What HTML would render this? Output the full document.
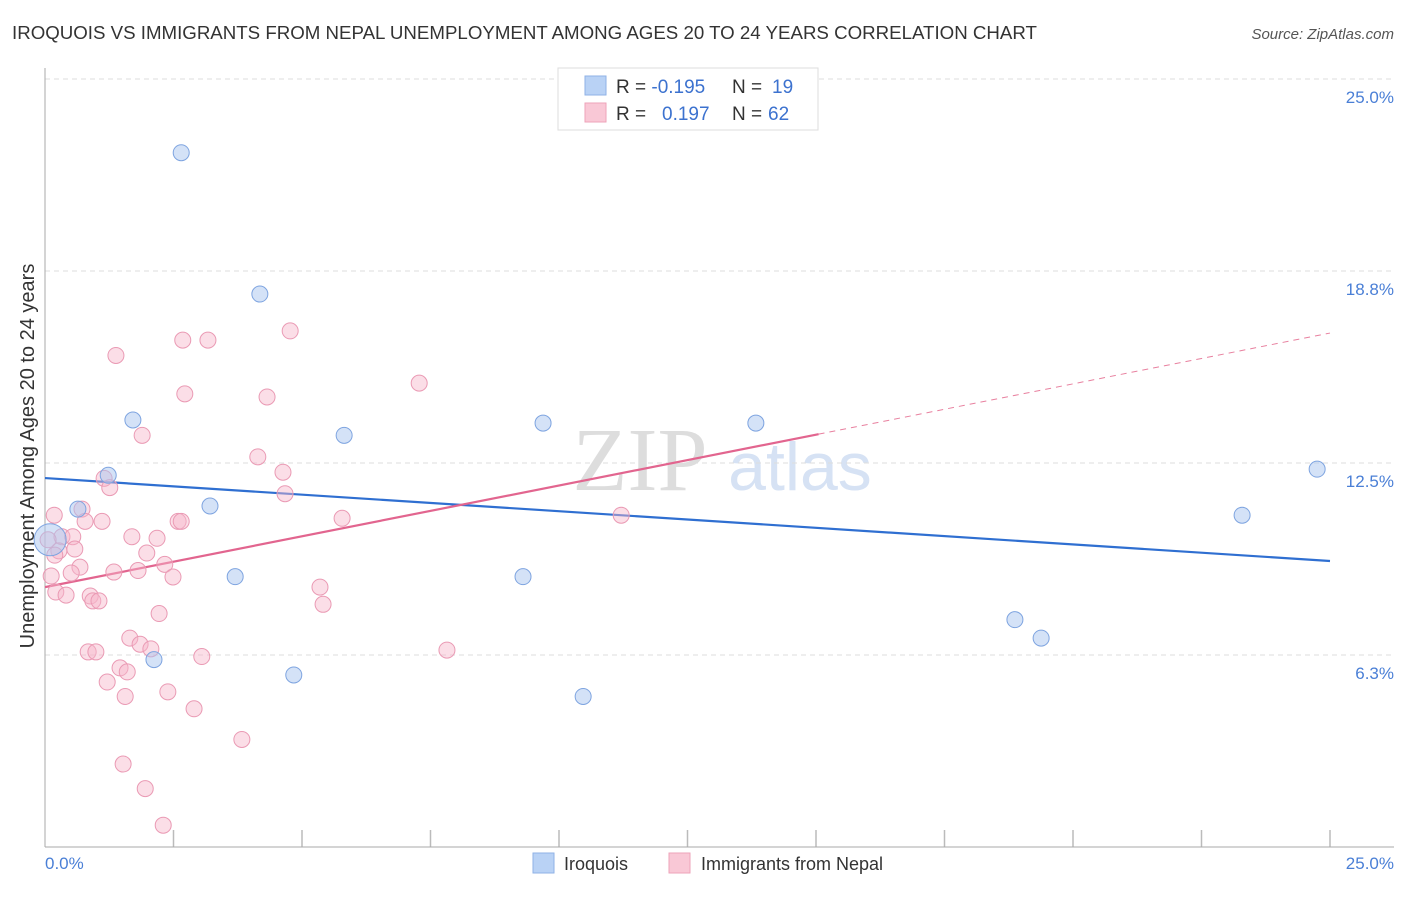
<!DOCTYPE html>
<html><head><meta charset="utf-8"><style>
body{margin:0;background:#fff;font-family:"Liberation Sans",sans-serif}
</style></head><body>
<svg width="1406" height="892" xmlns="http://www.w3.org/2000/svg">
<text x="12" y="39" font-size="18.7" fill="#333">IROQUOIS VS IMMIGRANTS FROM NEPAL UNEMPLOYMENT AMONG AGES 20 TO 24 YEARS CORRELATION CHART</text>
<text x="1394" y="39" font-size="15" fill="#555" font-style="italic" text-anchor="end">Source: ZipAtlas.com</text>
<text x="640" y="490" font-size="90" fill="#ddd" font-family="Liberation Serif" text-anchor="middle">ZIP</text>
<text x="800" y="490" font-size="68" fill="#d6e2f4" text-anchor="middle">atlas</text>
<g id="grid"></g>
<line x1="45" y1="68" x2="45" y2="847" stroke="#aaa"/>
<line x1="45" y1="847" x2="1394" y2="847" stroke="#aaa"/>
<text x="34" y="456" font-size="20" fill="#333" text-anchor="middle" transform="rotate(-90 34 456)">Unemployment Among Ages 20 to 24 years</text>
<text x="45" y="869" font-size="17" fill="#4a7fd6">0.0%</text>
<text x="1394" y="869" font-size="17" fill="#4a7fd6" text-anchor="end">25.0%</text>
<g id="lines"></g><g id="pts"></g>
<g>
<rect x="558" y="68" width="260" height="62" fill="#fff" stroke="#ddd"/>
<rect x="585" y="76" width="21" height="19" fill="#b9d2f5" stroke="#8fb2e6"/>
<rect x="585" y="103" width="21" height="19" fill="#f9c8d6" stroke="#eea3b9"/>
<text x="616" y="93" font-size="19" fill="#333">R = <tspan fill="#3c72cf">-0.195</tspan><tspan x="732">N = </tspan><tspan x="772" fill="#3c72cf">19</tspan></text>
<text x="616" y="120" font-size="19" fill="#333">R = <tspan x="662" fill="#3c72cf">0.197</tspan><tspan x="732">N = </tspan><tspan x="768" fill="#3c72cf">62</tspan></text>
</g>
<g>
<rect x="533" y="853" width="21" height="20" fill="#b9d2f5" stroke="#8fb2e6"/>
<text x="564" y="870" font-size="18" fill="#333">Iroquois</text>
<rect x="669" y="853" width="21" height="20" fill="#f9c8d6" stroke="#eea3b9"/>
<text x="701" y="870" font-size="18" fill="#333">Immigrants from Nepal</text>
</g>
</svg>
<script>
const yTicks=[25,18.75,12.5,6.25];
const yTickLabels=["25.0%","18.8%","12.5%","6.3%"];
const blueX=[2.65,4.18,1.71,5.82,9.69,13.83,1.23,3.21,0.64,3.70,9.30,2.12,4.84,10.47,18.87,19.38,24.75,23.29,0.10];
const blueY=[22.6,18.0,13.9,13.4,13.8,13.8,12.1,11.1,11.0,8.8,8.8,6.1,5.6,4.9,7.4,6.8,12.3,10.8,10.0];
const blueR=[8,8,8,8,8,8,8,8,8,8,8,8,8,8,8,8,8,8,16];
const pinkX=[1.38,2.68,3.17,4.77,2.72,4.32,7.28,1.89,4.14,4.63,4.67,1.15,1.26,0.72,0.18,0.78,1.11,2.59,2.65,5.78,11.21,0.33,0.54,1.69,2.18,0.27,0.58,1.98,2.33,0.68,0.51,1.34,1.81,2.49,0.12,0.21,0.41,0.88,0.93,1.05,5.35,5.41,2.22,1.65,1.85,2.06,0.84,0.99,3.05,7.82,1.46,1.60,1.21,2.39,1.56,2.90,3.83,1.52,1.95,2.30,0.06,0.19];
const pinkY=[16.0,16.5,16.5,16.8,14.75,14.65,15.1,13.4,12.7,12.2,11.5,12.0,11.7,11.0,10.8,10.6,10.6,10.6,10.6,10.7,10.8,10.1,10.1,10.1,10.05,9.64,9.7,9.57,9.2,9.11,8.92,8.95,9.0,8.79,8.82,8.3,8.2,8.17,8.01,8.01,8.46,7.9,7.6,6.8,6.6,6.45,6.35,6.35,6.2,6.41,5.83,5.7,5.37,5.05,4.9,4.5,3.5,2.7,1.9,0.71,10.0,9.5];
const trendBlue=[12.01,9.31];
const trendPink=[8.46,16.73];
const pinkSolidEnd=15.05;
const X=v=>45+v*51.4, Y=v=>847-v*30.72;
const NS="http://www.w3.org/2000/svg";
function mk(t,a,p){const e=document.createElementNS(NS,t);for(const k in a)e.setAttribute(k,a[k]);p.appendChild(e);return e;}
const grid=document.getElementById('grid');
yTicks.forEach((t,i)=>{
 const l=mk('line',{x1:45,x2:1394,y1:Y(t),y2:Y(t),stroke:'#ddd','stroke-dasharray':'5,4'},grid);
 
 
 const tx=mk('text',{x:1394,y:Y(t)+24,'font-size':17,fill:'#4a7fd6','text-anchor':'end'},grid);
 tx.textContent=yTickLabels[i];
 
 
});
for(let k=1;k<=10;k++){const l=mk('line',{x1:45+k*128.5,x2:45+k*128.5,y1:830,y2:847,stroke:'#bbb','stroke-width':1.5},grid);
 
 }
const lines=document.getElementById('lines');
const bl=mk('line',{x1:X(0),y1:Y(trendBlue[0]),x2:X(25),y2:Y(trendBlue[1]),stroke:'#2f6fd1','stroke-width':2.2},lines);


const py=x=>trendPink[0]+(trendPink[1]-trendPink[0])*x/25;
const pl=mk('line',{x1:X(0),y1:Y(py(0)),x2:X(pinkSolidEnd),y2:Y(py(pinkSolidEnd)),stroke:'#e2658f','stroke-width':2.2},lines);


const pd=mk('line',{x1:X(pinkSolidEnd),y1:Y(py(pinkSolidEnd)),x2:X(25),y2:Y(py(25)),stroke:'#e8809f','stroke-width':1,'stroke-dasharray':'6,5'},lines);


const pts=document.getElementById('pts');
pinkX.forEach((x,i)=>{const c=mk('circle',{cx:X(x),cy:Y(pinkY[i]),r:8,fill:'rgba(246,182,202,0.45)',stroke:'#ea9ab4','stroke-width':1},pts);
 
 });
blueX.forEach((x,i)=>{const c=mk('circle',{cx:X(x),cy:Y(blueY[i]),r:blueR[i],fill:'rgba(170,198,240,0.5)',stroke:'#7ea4e0','stroke-width':1},pts);
 
 });
</script>
</body></html>
